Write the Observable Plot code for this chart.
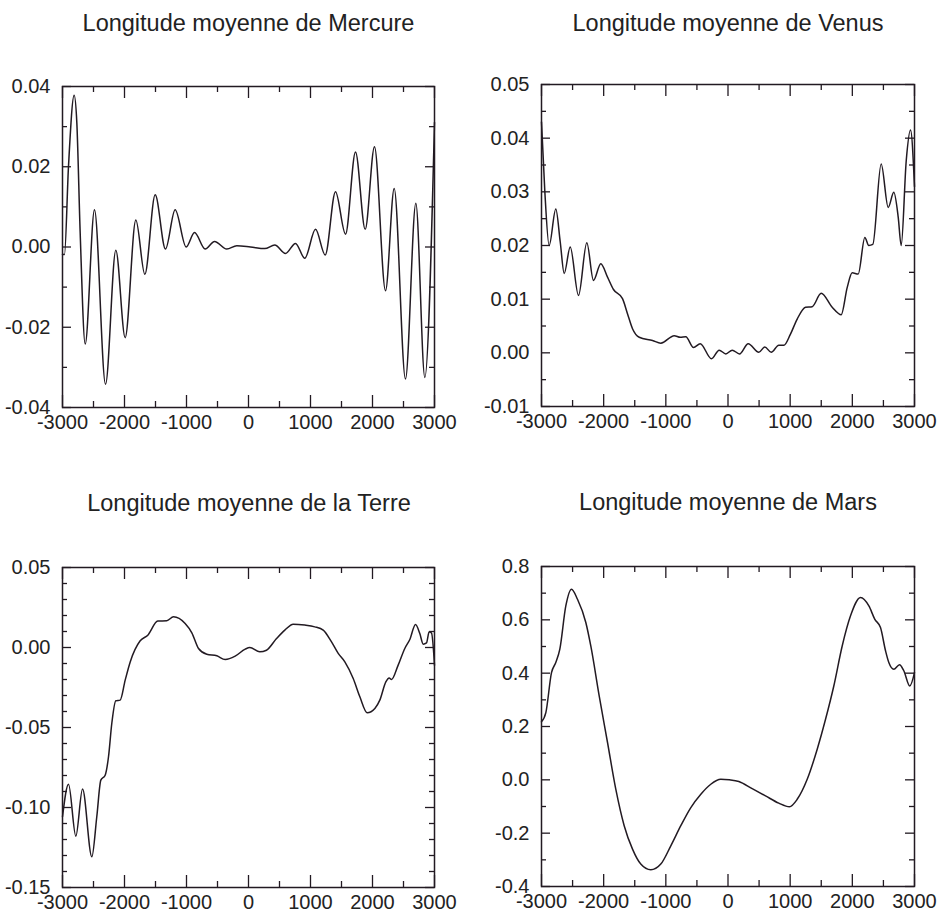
<!DOCTYPE html>
<html><head><meta charset="utf-8">
<script src="https://cdn.jsdelivr.net/npm/d3@7"></script>
<script src="https://cdn.jsdelivr.net/npm/@observablehq/plot@0.6"></script>
<style>
body{margin:0;background:#fff;width:938px;height:921px;position:relative;overflow:hidden;font-family:"Liberation Sans",Arial,sans-serif;}
.panel{position:absolute;}
.title{position:absolute;width:469px;text-align:center;font-size:23.5px;line-height:1;color:#222;white-space:nowrap;}
</style></head><body>
<script>
// ---------- data ----------
const titles = ["Longitude moyenne de Mercure","Longitude moyenne de Venus","Longitude moyenne de la Terre","Longitude moyenne de Mars"];

const mercureYears  = [-3000,-2968,-2903,-2812,-2769,-2715,-2634,-2484,-2306,-2140,-1989,-1817,-1672,-1505,-1339,-1183,-1005,-871,-699,-548,-350,-189,32,263,424,597,758,908,1081,1237,1403,1565,1726,1882,2032,2210,2350,2532,2699,2844,3000];
const mercureValues = [-0.0018,-0.0019,0.0202,0.0378,0.031,0.0036,-0.0242,0.0093,-0.0342,-0.0008,-0.0226,0.0067,-0.0068,0.0130,-0.0005,0.0093,0.0000,0.0036,-0.0005,0.0014,-0.0005,0.0003,0.0000,-0.0004,0.0005,-0.0016,0.0009,-0.0028,0.0044,-0.0020,0.0138,0.0032,0.0237,0.0044,0.0250,-0.0109,0.0146,-0.0329,0.0109,-0.0325,0.031];

const venusYears  = [-3000,-2947,-2877,-2770,-2699,-2635,-2538,-2405,-2271,-2164,-2046,-1938,-1842,-1697,-1617,-1536,-1428,-1214,-1081,-865,-768,-679,-555,-447,-265,-142,-35,68,185,325,496,592,695,817,898,1005,1113,1247,1354,1499,1676,1821,1918,1998,2095,2201,2265,2329,2464,2577,2667,2738,2786,2867,2936,3000];
const venusValues = [0.043,0.0302,0.0200,0.0268,0.0207,0.0148,0.0197,0.0107,0.0205,0.0135,0.0166,0.0141,0.0118,0.0101,0.0073,0.0045,0.0029,0.0023,0.0018,0.0032,0.0029,0.0030,0.0010,0.0017,-0.0011,0.0005,-0.0002,0.0005,-0.0002,0.0017,0.0001,0.0011,0.0001,0.0014,0.0014,0.0035,0.0063,0.0085,0.0086,0.0111,0.0085,0.0071,0.0122,0.0149,0.0147,0.0215,0.0200,0.0202,0.0352,0.0271,0.0299,0.0253,0.0200,0.0358,0.0415,0.031];

const terreYears  = [-3000,-2903,-2785,-2677,-2527,-2447,-2382,-2312,-2258,-2205,-2140,-2070,-1989,-1908,-1747,-1624,-1463,-1318,-1210,-1022,-914,-806,-673,-511,-376,-215,-53,21,182,290,452,586,721,908,1069,1205,1339,1447,1554,1689,1796,1915,2038,2118,2215,2269,2306,2414,2521,2602,2694,2763,2818,2871,2914,2952,3000];
const terreValues = [-0.1058,-0.0854,-0.1179,-0.0885,-0.1308,-0.1058,-0.0829,-0.0798,-0.0683,-0.0475,-0.0333,-0.0329,-0.0204,-0.0090,0.0042,0.0077,0.0165,0.0167,0.0192,0.0150,0.0092,-0.0006,-0.0042,-0.0052,-0.0075,-0.0054,-0.0010,0.0000,-0.0027,-0.0017,0.0056,0.0109,0.0146,0.0140,0.0129,0.0109,0.0035,-0.0037,-0.0090,-0.0194,-0.0308,-0.0408,-0.0381,-0.0329,-0.0215,-0.0190,-0.0200,-0.0110,-0.0006,0.0050,0.0144,0.0087,0.0021,0.0029,0.0098,0.0090,-0.011];

const marsYears  = [-3000,-2930,-2839,-2770,-2705,-2609,-2517,-2421,-2287,-2207,-2072,-1938,-1805,-1670,-1536,-1403,-1242,-1081,-920,-759,-598,-437,-277,-116,20,174,389,603,817,989,1113,1274,1435,1569,1702,1837,1971,2132,2266,2362,2453,2534,2587,2667,2759,2828,2924,3000];
const marsValues = [0.2175,0.252,0.402,0.44,0.49,0.652,0.715,0.677,0.59,0.502,0.315,0.14,-0.035,-0.172,-0.26,-0.316,-0.3375,-0.316,-0.2475,-0.172,-0.104,-0.054,-0.0165,0.002,0.0,-0.006,-0.033,-0.06,-0.0875,-0.101,-0.073,0.002,0.115,0.227,0.352,0.502,0.615,0.6835,0.652,0.602,0.571,0.484,0.44,0.415,0.432,0.409,0.352,0.402];

const xMajorTicks = [-3000,-2000,-1000,0,1000,2000,3000];
const xMinorTicks = [-2500,-1500,-500,500,1500,2500];

const mercureYMajor = [-0.04,-0.02,0,0.02,0.04];
const mercureYMinor = [-0.03,-0.01,0.01,0.03];
const venusYMajor = [-0.01,0,0.01,0.02,0.03,0.04,0.05];
const venusYMinor = [-0.005,0.005,0.015,0.025,0.035,0.045];
const terreYMajor = [-0.15,-0.10,-0.05,0,0.05];
const terreYMinor = [-0.14,-0.13,-0.12,-0.11,-0.09,-0.08,-0.07,-0.06,-0.04,-0.03,-0.02,-0.01,0.01,0.02,0.03,0.04];
const marsYMajor = [-0.4,-0.2,0,0.2,0.4,0.6,0.8];
const marsYMinor = [-0.3,-0.1,0.1,0.3,0.5,0.7];

// ---------- drawing ----------
const INK = "#221a22";
function panel({left, top, height, mt, mb, ml, mr, years, values, yDomain, yMajor, yMinor, dec, title, titleTop, titleCenter}) {
  const width = 469;
  const fh = height - mt - mb, fw = width - ml - mr;
  const data = years.map((x, i) => ({x, y: values[i]}));
  const chart = Plot.plot({
    width, height,
    marginTop: mt, marginBottom: mb, marginLeft: ml, marginRight: mr,
    x: {domain: [-3000, 3000], label: null},
    y: {domain: yDomain, label: null},
    style: {fontFamily: "'Liberation Sans', Arial, sans-serif", fontSize: "20px", color: "#222", background: "transparent", overflow: "visible"},
    marks: [
      Plot.line(data, {x: "x", y: "y", curve: "monotone-x", stroke: INK, strokeWidth: 1.5}),
      // inward ticks, bottom and top
      Plot.tickX(xMajorTicks, {x: d => d, insetTop: fh - 12, stroke: INK, strokeWidth: 1.3}),
      Plot.tickX(xMajorTicks, {x: d => d, insetBottom: fh - 12, stroke: INK, strokeWidth: 1.3}),
      Plot.tickX(xMinorTicks, {x: d => d, insetTop: fh - 6, stroke: INK, strokeWidth: 1.3}),
      Plot.tickX(xMinorTicks, {x: d => d, insetBottom: fh - 6, stroke: INK, strokeWidth: 1.3}),
      // inward ticks, left and right
      Plot.tickY(yMajor, {y: d => d, insetRight: fw - 9, stroke: INK, strokeWidth: 1.3}),
      Plot.tickY(yMajor, {y: d => d, insetLeft: fw - 9, stroke: INK, strokeWidth: 1.3}),
      Plot.tickY(yMinor, {y: d => d, insetRight: fw - 5, stroke: INK, strokeWidth: 1.3}),
      Plot.tickY(yMinor, {y: d => d, insetLeft: fw - 5, stroke: INK, strokeWidth: 1.3}),
      Plot.frame({stroke: INK, strokeWidth: 1.5}),
      Plot.axisX(xMajorTicks, {tickSize: 0, tickPadding: 7, tickFormat: d => String(d), fill: "#222", label: null}),
      Plot.axisY(yMajor, {tickSize: 0, tickPadding: 12, tickFormat: d => d.toFixed(dec), fill: "#222", label: null})
    ]
  });
  const div = document.createElement("div");
  div.className = "panel";
  div.style.left = left + "px";
  div.style.top = top + "px";
  div.appendChild(chart);
  document.body.appendChild(div);
  const t = document.createElement("div");
  t.className = "title";
  t.textContent = title;
  t.style.left = (titleCenter - 234.5) + "px";
  t.style.top = titleTop + "px";
  document.body.appendChild(t);
}

panel({left: 0, top: 0, height: 460, mt: 86, mb: 53, ml: 62, mr: 35,
  years: mercureYears, values: mercureValues, yDomain: [-0.04, 0.04],
  yMajor: mercureYMajor, yMinor: mercureYMinor, dec: 2,
  title: titles[0], titleTop: 11.7, titleCenter: 248.5});
panel({left: 469, top: 0, height: 460, mt: 84, mb: 54, ml: 72, mr: 24,
  years: venusYears, values: venusValues, yDomain: [-0.01, 0.05],
  yMajor: venusYMajor, yMinor: venusYMinor, dec: 2,
  title: titles[1], titleTop: 11.7, titleCenter: 728});
panel({left: 0, top: 460, height: 461, mt: 107, mb: 34, ml: 62, mr: 35,
  years: terreYears, values: terreValues, yDomain: [-0.15, 0.05],
  yMajor: terreYMajor, yMinor: terreYMinor, dec: 2,
  title: titles[2], titleTop: 491.7, titleCenter: 249});
panel({left: 469, top: 460, height: 461, mt: 106, mb: 35, ml: 72, mr: 24,
  years: marsYears, values: marsValues, yDomain: [-0.4, 0.8],
  yMajor: marsYMajor, yMinor: marsYMinor, dec: 1,
  title: titles[3], titleTop: 490.7, titleCenter: 728});
</script>
</body></html>
